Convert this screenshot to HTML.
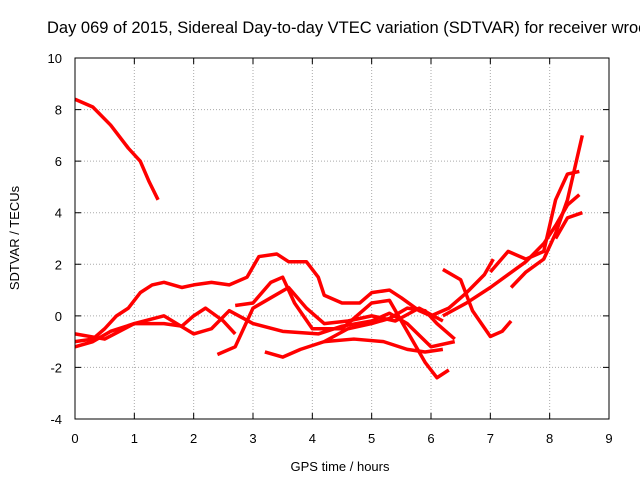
<!DOCTYPE html>
<html><head><meta charset="utf-8"><style>
body{margin:0;background:#fff;}
svg text{font-family:"Liberation Sans",sans-serif;font-size:13px;fill:#000;}
</style></head><body>
<svg id="c" width="640" height="480">
<text x="47" y="33" style="font-size:16.5px">Day 069 of 2015, Sidereal Day-to-day VTEC variation (SDTVAR) for receiver wroc</text>
<text x="340" y="471" text-anchor="middle">GPS time / hours</text>
<text transform="translate(19,238) rotate(-90)" text-anchor="middle">SDTVAR / TECUs</text>
<g id="grid"></g><g id="series"></g>
<rect x="75" y="58" width="534" height="361" fill="none" stroke="#000"/>
</svg>
<script>
const xTicks=[0,1,2,3,4,5,6,7,8,9];
const yTicks=[-4,-2,0,2,4,6,8,10];
const s1=[[0,8.4],[0.3,8.1],[0.6,7.4],[0.9,6.5],[1.1,6.0],[1.25,5.2],[1.4,4.5]];
const s2=[[0,-1],[0.3,-0.9],[0.5,-0.5],[0.7,0],[0.9,0.3],[1.1,0.9],[1.3,1.2],[1.5,1.3],[1.8,1.1],[2.0,1.2],[2.3,1.3],[2.6,1.2],[2.9,1.5],[3.1,2.3],[3.4,2.4],[3.6,2.1],[3.9,2.1],[4.1,1.5],[4.2,0.8],[4.5,0.5],[4.8,0.5],[5.0,0.9],[5.3,1.0],[5.5,0.7],[5.8,0.2],[6.0,0],[6.3,0.3],[6.6,0.9],[6.9,1.6],[7.05,2.2]];
const s3=[[0,-1.2],[0.3,-1],[0.6,-0.6],[1,-0.3],[1.5,-0.3],[1.8,-0.4],[2.0,0],[2.2,0.3],[2.5,-0.2],[2.7,-0.7]];
const s4=[[2.4,-1.5],[2.7,-1.2],[3.0,0.3],[3.3,0.7],[3.6,1.1],[3.9,0.3],[4.2,-0.3],[4.6,-0.2],[5,0],[5.4,-0.2],[5.8,0.3],[6.2,-0.2]];
const s5=[[3.2,-1.4],[3.5,-1.6],[3.8,-1.3],[4.2,-1],[4.6,-0.5],[5,-0.3],[5.3,-0.1],[5.6,0.3],[5.9,0.2],[6.1,-0.3],[6.4,-0.9]];
const s6=[[6.2,0],[6.6,0.5],[7,1.1],[7.3,1.6],[7.6,2.1],[7.9,2.8],[8.1,3.5],[8.3,4.3],[8.5,4.7]];
const s7=[[6.2,1.8],[6.5,1.4],[6.7,0.2],[7,-0.8],[7.2,-0.6],[7.35,-0.2]];
const s8=[[7.0,1.7],[7.3,2.5],[7.6,2.2],[7.9,2.5],[8.1,4.5],[8.3,5.5],[8.5,5.6]];
const s9=[[7.35,1.1],[7.6,1.7],[7.9,2.2],[8.1,3.2],[8.3,4.5],[8.45,6.0],[8.55,7.0]];
const s10=[[0,-0.7],[0.5,-0.9],[1,-0.3],[1.5,0],[2,-0.7],[2.3,-0.5],[2.6,0.2],[3,-0.3],[3.5,-0.6],[4.1,-0.7],[4.5,-0.4],[5,-0.2],[5.3,0.1],[5.6,-0.3],[6,-1.2],[6.4,-1.0]];
const s11=[[2.7,0.4],[3.0,0.5],[3.3,1.3],[3.5,1.5],[3.7,0.5],[4,-0.5],[4.5,-0.5],[5,0.5],[5.3,0.6],[5.6,-0.6],[5.9,-1.8],[6.1,-2.4],[6.3,-2.1]];
const s12=[[4.2,-1.0],[4.7,-0.9],[5.2,-1.0],[5.6,-1.3],[5.9,-1.4],[6.2,-1.3]];
const s13=[[8.1,3.0],[8.3,3.8],[8.55,4.0]];
const allSeries=[s1,s2,s3,s4,s5,s6,s7,s8,s9,s10,s11,s12,s13];
const X=v=>75+v*534/9, Y=v=>419-(v+4)*361/14;
const NS="http://www.w3.org/2000/svg";
const g=document.getElementById('grid'), sg=document.getElementById('series');
xTicks.forEach(t=>{
 if(t>0&&t<9){const l=document.createElementNS(NS,'line');l.setAttribute('x1',X(t));l.setAttribute('x2',X(t));l.setAttribute('y1',58);l.setAttribute('y2',419);l.setAttribute('stroke','#aaa');l.setAttribute('stroke-dasharray','1,2');
 
 g.appendChild(l);}
 const tk=document.createElementNS(NS,'path');tk.setAttribute('d',`M${X(t)},419v-6M${X(t)},58v6`);tk.setAttribute('stroke','#000');g.appendChild(tk);
 const tx=document.createElementNS(NS,'text');tx.setAttribute('x',X(t));tx.setAttribute('y',443);tx.setAttribute('text-anchor','middle');tx.textContent=t;
 
 g.appendChild(tx);
});
yTicks.forEach(t=>{
 if(t>-4&&t<10){const l=document.createElementNS(NS,'line');l.setAttribute('x1',75);l.setAttribute('x2',609);l.setAttribute('y1',Y(t));l.setAttribute('y2',Y(t));l.setAttribute('stroke','#aaa');l.setAttribute('stroke-dasharray','1,2');
 
 g.appendChild(l);}
 const tk=document.createElementNS(NS,'path');tk.setAttribute('d',`M75,${Y(t)}h6M609,${Y(t)}h-6`);tk.setAttribute('stroke','#000');g.appendChild(tk);
 const tx=document.createElementNS(NS,'text');tx.setAttribute('x',62);tx.setAttribute('y',Y(t)+5);tx.setAttribute('text-anchor','end');tx.textContent=t;
 
 g.appendChild(tx);
});
allSeries.forEach((s,i)=>{
 const p=document.createElementNS(NS,'polyline');
 p.setAttribute('points',s.map(d=>X(d[0])+','+Y(d[1])).join(' '));
 p.setAttribute('fill','none');p.setAttribute('stroke','#f00');p.setAttribute('stroke-width','3.5');p.setAttribute('stroke-linejoin','round');
 
 
 sg.appendChild(p);
});
</script>
</body></html>
